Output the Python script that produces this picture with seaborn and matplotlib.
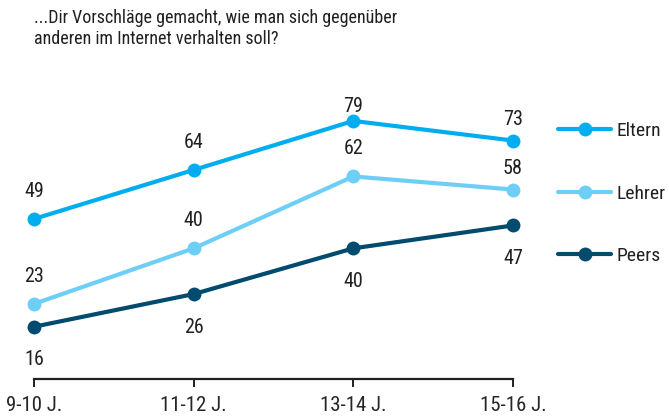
import seaborn as sns
import pandas as pd
import matplotlib.pyplot as plt

# Values
age_groups = ["9-10 J.", "11-12 J.", "13-14 J.", "15-16 J."]
eltern = [49, 64, 79, 73]
lehrer = [23, 40, 62, 58]
peers = [16, 26, 40, 47]
series_names = ["Eltern", "Lehrer", "Peers"]
title_text = "...Dir Vorschläge gemacht, wie man sich gegenüber\nanderen im Internet verhalten soll?"

colors = {"Eltern": "#00aeef", "Lehrer": "#6ecff6", "Peers": "#004b6e"}
# label above (+) or below (-) the point
label_side = {"Eltern": 1, "Lehrer": 1, "Peers": -1}
# a few labels sit closer to their point in the original (points)
label_nudge = {("Eltern", 2): -9.5, ("Eltern", 3): -4.5, ("Lehrer", 3): -5}

rows = []
for name, vals in zip(series_names, [eltern, lehrer, peers]):
    for i, v in enumerate(vals):
        rows.append({"pos": i, "group": age_groups[i], "value": v, "series": name})
df = pd.DataFrame(rows)

sns.set_style("white")
plt.rcParams["font.family"] = ["Roboto Condensed", "Liberation Sans Narrow",
                               "Liberation Sans", "DejaVu Sans"]
plt.rcParams["text.color"] = "#231f20"

fig = plt.figure(figsize=(6.69, 4.18), dpi=100)
ax = fig.add_axes([34 / 669, 39 / 418, (513 - 34) / 669, 294 / 418])

sns.lineplot(
    data=df, x="pos", y="value", hue="series", palette=colors,
    marker="o", markersize=10, markeredgewidth=0, linewidth=3,
    ax=ax, clip_on=False, legend=True,
)

for _, r in df.iterrows():
    side = label_side[r["series"]]
    dy = 13 if side > 0 else -17
    dy += label_nudge.get((r["series"], r["pos"]), 0)
    ax.annotate(
        str(r["value"]), (r["pos"], r["value"]),
        xytext=(0, dy), textcoords="offset points",
        ha="center", va="bottom" if side > 0 else "top", fontsize=14.5,
    )

ax.set_xlim(0, 3)
ax.set_ylim(0, 90)
ax.set_xticks(range(len(age_groups)))
ax.set_xticklabels(age_groups, fontsize=15)
ax.set_yticks([])
ax.set_xlabel("")
ax.set_ylabel("")
for s in ["top", "right", "left"]:
    ax.spines[s].set_visible(False)
ax.spines["bottom"].set_color("#231f20")
ax.spines["bottom"].set_linewidth(1.6)
ax.tick_params(axis="x", direction="out", length=6, width=1.4,
               color="#231f20", pad=6, bottom=True)

handles, labels = ax.get_legend_handles_labels()
ax.get_legend().remove()
fig.legend(
    handles, labels, loc="upper left",
    bbox_to_anchor=(558 / 669, 1 - 122 / 418),
    frameon=False, fontsize=14, labelspacing=2.29,
    handlelength=2.75, handletextpad=0.26, borderpad=0, borderaxespad=0,
)

fig.text(34 / 669, 1 - 9 / 418, title_text, ha="left", va="top",
         fontsize=13, linespacing=1.25)

plt.savefig("out.png", dpi=100)
